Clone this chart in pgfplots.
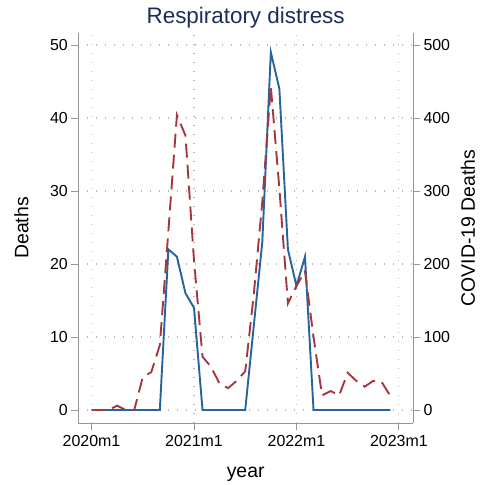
\documentclass[border=0pt]{standalone}
\usepackage{fontspec}
\setmainfont{Liberation Sans}
\usepackage{pgfplots}
\pgfplotsset{compat=1.18}
\usepackage{pgfplotstable}
\definecolor{sblue}{RGB}{38,100,160}
\definecolor{sred}{RGB}{165,56,62}
\definecolor{stitle}{RGB}{28,45,90}
\definecolor{sgrid}{RGB}{185,185,185}
\definecolor{saxis}{RGB}{150,150,150}

\pgfplotstableread{
m deaths covid
0 0 0
1 0 0
2 0 0
3 0 6
4 0 0
5 0 0
6 0 45
7 0 52
8 0 89
9 22 245
10 21 404
11 16 376
12 14 205
13 0 73
14 0 59
15 0 36
16 0 30
17 0 40
18 0 53
19 11.5 158
20 23 285
21 49 443
22 44 303
23 22 146
24 17 170
25 21 190
26 0 100
27 0 20
28 0 26
29 0 20
30 0 51
31 0 40
32 0 32
33 0 40
34 0 38
35 0 19
}\datatab

\begin{document}
\begin{tikzpicture}
\pgfplotsset{
 base/.style={
  width=334.7bp, height=390bp, scale only axis,
  xmin=-1.55, xmax=37.65,
  tick align=outside, major tick length=7bp,
  axis line style={saxis, line width=0.9bp},
  tick style={saxis, line width=0.9bp},
  /pgf/number format/assume math mode=true,
  ticklabel style={font=\fontsize{16}{18}\selectfont, text=black},
 }
}
\begin{axis}[base, name=main,
  axis x line*=bottom, axis y line*=left,
  ymin=-1.78, ymax=51.64,
  ytick={0,10,...,50}, xtick={0,12,24,36},
  xticklabels={2020m1,2021m1,2022m1,2023m1},
  xticklabel style={yshift=-2bp},
  grid=major, major grid style={sgrid, line width=1.1bp, dash pattern=on 1.1bp off 7.9bp},
  xlabel={year}, ylabel={Deaths},
  every axis x label/.style={at={(axis description cs:0.5,-0.1385)}, anchor=base, font=\fontsize{19.5}{22}\selectfont},
  every axis y label/.style={at={(axis description cs:-0.1494,0.5)}, rotate=90, anchor=base, font=\fontsize{19.5}{22}\selectfont},
  title={Respiratory distress},
  every axis title/.style={at={(axis description cs:0.5,1.0231)}, anchor=base, font=\fontsize{22.5}{26}\selectfont, text=stitle},
]
\addplot[sblue, line width=1.9bp] table[x=m,y=deaths]{\datatab};
\end{axis}
\begin{axis}[base,
  axis y line*=right, axis x line=none,
  ymin=-17.8, ymax=516.4, ytick={0,100,...,500},
  ylabel={COVID-19 Deaths},
  every axis y label/.style={at={(axis description cs:1.185,0.5)}, rotate=90, anchor=base, font=\fontsize{19.5}{22}\selectfont},
]
\addplot[sred, line width=1.9bp, dash pattern=on 14bp off 7bp] table[x=m,y=covid]{\datatab};
\end{axis}
\pgfresetboundingbox
\path[use as bounding box] ([shift={(-78.3bp,-62bp)}]main.south west) rectangle ++(487bp,485bp);
\end{tikzpicture}
\end{document}
